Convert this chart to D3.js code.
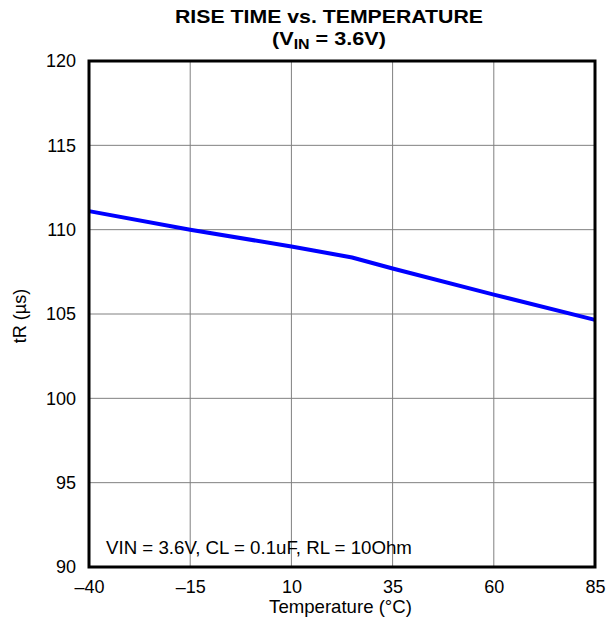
<!DOCTYPE html>
<html><head><meta charset="utf-8">
<script src="https://cdn.jsdelivr.net/npm/d3@7"></script>
<style>body{margin:0;background:#fff}svg{display:block}text{font-family:"Liberation Sans",Arial,sans-serif}</style>
</head><body>
<script>
const temps = [-40, -15, 10, 25, 35, 60, 85];
const riseTime = [111.1, 110.0, 109.0, 108.35, 107.7, 106.15, 104.65];
const xTicks = [-40, -15, 10, 35, 60, 85];
const yTicks = [90, 95, 100, 105, 110, 115, 120];
const note = "VIN = 3.6V, CL = 0.1uF, RL = 10Ohm";

const W = 606, H = 624;
const m = {left: 89, right: 11, top: 61, bottom: 57};
const svg = d3.select("body").append("svg").attr("width", W).attr("height", H);
const x = d3.scaleLinear().domain([-40, 85]).range([m.left, W - m.right]);
const y = d3.scaleLinear().domain([90, 120]).range([H - m.bottom, m.top]);
const fmt = d => (d < 0 ? "\u2013" + Math.abs(d) : String(d));

// grid
svg.append("g").selectAll("line").data(xTicks.slice(1, -1)).join("line")
  .attr("x1", d => x(d)).attr("x2", d => x(d)).attr("y1", y(90)).attr("y2", y(120))
  .attr("stroke", "#808080").attr("stroke-width", 1);
svg.append("g").selectAll("line").data(yTicks.slice(1, -1)).join("line")
  .attr("y1", d => y(d)).attr("y2", d => y(d)).attr("x1", x(-40)).attr("x2", x(85))
  .attr("stroke", "#808080").attr("stroke-width", 1);

// axes labels
const xa = svg.append("g").attr("transform", `translate(0,${y(90)})`)
  .call(d3.axisBottom(x).tickValues(xTicks).tickFormat(fmt).tickSize(0).tickPadding(13));
xa.select(".domain").remove();
xa.selectAll("text").attr("font-size", 18).attr("fill", "#000");
const ya = svg.append("g").attr("transform", `translate(${x(-40)},0)`)
  .call(d3.axisLeft(y).tickValues(yTicks).tickSize(0).tickPadding(13));
ya.select(".domain").remove();
ya.selectAll("text").attr("font-size", 18).attr("fill", "#000");

// line
svg.append("path").datum(temps.map((t, i) => [t, riseTime[i]]))
  .attr("d", d3.line().x(d => x(d[0])).y(d => y(d[1])))
  .attr("fill", "none").attr("stroke", "#0000ff").attr("stroke-width", 4);

// frame
svg.append("rect").attr("x", x(-40)).attr("y", y(120))
  .attr("width", x(85) - x(-40)).attr("height", y(90) - y(120))
  .attr("fill", "none").attr("stroke", "#000").attr("stroke-width", 3);

// note
svg.append("text").attr("x", x(-40) + 17).attr("y", 554)
  .attr("font-size", 18.7).text(note);

// titles
const cx = 329;
svg.append("text").attr("x", cx).attr("y", 22.5).attr("text-anchor", "middle")
  .attr("font-size", 19).attr("font-weight", "bold")
  .attr("textLength", 308).attr("lengthAdjust", "spacingAndGlyphs")
  .text("RISE TIME vs. TEMPERATURE");
const t2 = svg.append("text").attr("x", cx).attr("y", 44.5).attr("text-anchor", "middle")
  .attr("font-size", 19).attr("font-weight", "bold")
  .attr("textLength", 114).attr("lengthAdjust", "spacingAndGlyphs");
t2.append("tspan").text("(V");
t2.append("tspan").attr("font-size", 14).attr("dy", 4).text("IN");
t2.append("tspan").attr("dy", -4).text(" = 3.6V)");

svg.append("text").attr("x", 340.5).attr("y", 613).attr("text-anchor", "middle")
  .attr("font-size", 18.6).text("Temperature (\u00B0C)");
svg.append("text").attr("transform", `translate(26,316) rotate(-90)`)
  .attr("text-anchor", "middle").attr("font-size", 18).text("tR (\u00B5s)");
</script>
</body></html>
